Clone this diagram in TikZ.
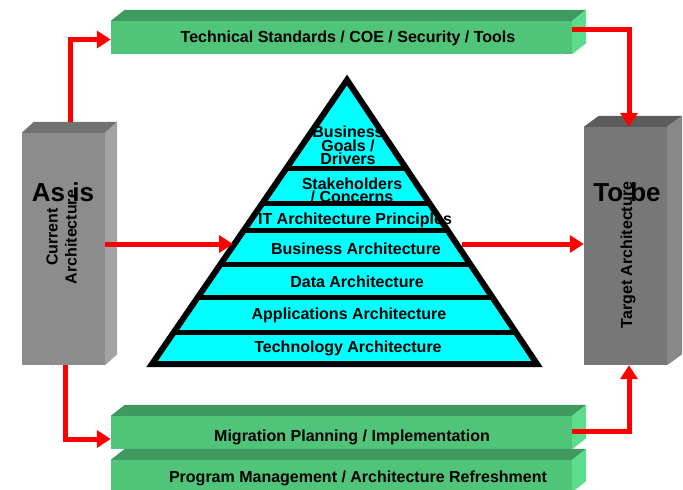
\documentclass[tikz,border=0pt]{standalone}
\usepackage{fontspec}
\setmainfont{Liberation Sans}
\usetikzlibrary{arrows.meta,positioning,calc}
\definecolor{barfront}{RGB}{80,196,120}
\definecolor{bartop}{RGB}{63,154,95}
\definecolor{barside}{RGB}{92,221,140}
\definecolor{asisfront}{RGB}{140,140,140}
\definecolor{asistop}{RGB}{114,114,114}
\definecolor{asisside}{RGB}{163,163,163}
\definecolor{tobefront}{RGB}{119,119,119}
\definecolor{tobetop}{RGB}{92,92,92}
\definecolor{tobeside}{RGB}{136,136,136}
\definecolor{pyrcyan}{RGB}{0,255,255}
\definecolor{arrowred}{RGB}{255,0,0}
\newcommand{\boxsides}[4]{%
  \fill[#3] (#1.north west) -- ($(#1.north west)+(#2)$) -- ($(#1.north east)+(#2)$) -- (#1.north east) -- cycle;
  \fill[#4] (#1.north east) -- ($(#1.north east)+(#2)$) -- ($(#1.south east)+(#2)$) -- (#1.south east) -- cycle;}

\begin{document}
\begin{tikzpicture}[x=1pt,y=-1pt,
  bar/.style={fill=barfront,minimum width=461pt,minimum height=33pt,inner sep=0pt},
  bartext/.style={font=\bfseries\fontsize{16}{18}\selectfont,inner sep=0pt},
  block/.style={minimum width=83pt,inner sep=0pt},
  title/.style={font=\bfseries\fontsize{26}{28}\selectfont,inner sep=0pt},
  side/.style={font=\bfseries\fontsize{16}{19}\selectfont,align=center,rotate=90,inner sep=0pt},
  layer/.style={font=\bfseries\fontsize{16}{13.5}\selectfont,align=center,inner sep=0pt},
  flow/.style={draw=arrowred,line width=5pt,-{Triangle[length=14pt,width=17pt]}}]
\useasboundingbox (0,0) rectangle (683,490);
% green bars
\node[bar] (tech) at (341.5,37.5) {};
\boxsides{tech}{14,-11}{bartop}{barside}
\node[bartext] (techtext) at (348,38) {Technical Standards / COE / Security / Tools};
\node[bar] (mig) at (341.5,432.5) {};
\boxsides{mig}{14,-11}{bartop}{barside}
\node[bartext] (migtext) at (352,437) {Migration Planning / Implementation};
\node[bar,minimum height=32pt] (prog) at (341.5,476) {};
\boxsides{prog}{14,-11}{bartop}{barside}
\node[bartext] (progtext) at (358,478) {Program Management / Architecture Refreshment};
% current and target blocks
\node[block,fill=asisfront,minimum height=232pt] (asis) at (63.5,249) {};
\boxsides{asis}{12,-11}{asistop}{asisside}
\node[title] (asistitle) at (63,192) {As is};
\node[side] (asisname) at (61.5,237) {Current\\Architecture};
\node[block,fill=tobefront,minimum height=238pt] (tobe) at (625.5,246) {};
\boxsides{tobe}{15,-11}{tobetop}{tobeside}
\node[title] (tobetitle) at (627,192) {To be};
\node[side] (tobename) at (628,255) {Target Architecture};
% pyramid
\coordinate (apex) at (347,80);
\coordinate (pl) at (152,364);
\coordinate (pr) at (537,364);
\foreach \ya/\tx/\ty/\txt [count=\i] in {75/348/145.5/{Business\\Goals /\\Drivers},168/352/190.5/{Stakeholders\\/ Concerns},203/355/220/IT Architecture Principles,230/356/249/Business Architecture,264/357/282/Data Architecture,297/349/315/Applications Architecture,332/348/348/Technology Architecture}{
  \begin{scope}
    \clip (apex) -- (pl) -- (pr) -- cycle;
    \fill[pyrcyan] (0,\ya) rectangle (683,370);
    \draw[line width=5pt] (0,\ya) -- (683,\ya);
  \end{scope}
  \node[layer] (layer\i) at (\tx,\ty) {\txt};
}
\draw[line width=6pt,line join=miter] (apex) -- (pl) -- (pr) -- cycle;
\coordinate (pyrL) at (233,244);
\coordinate (pyrR) at (462,244);
% arrows
\draw[flow] ([xshift=6.5pt,yshift=11pt]asis.north) |- ([yshift=-2pt]tech.west);
\draw[flow] ([yshift=8.5pt]tech.east) -| ([xshift=3.5pt]tobe.north);
\draw[flow] (asis.east |- pyrL) -- (pyrL);
\draw[flow] (pyrR) -- (pyrR -| tobe.west);
\draw[flow] ([xshift=1.5pt]asis.south) |- ([yshift=-6.5pt]mig.west);
\draw[flow] ([yshift=1.5pt]mig.east) -| ([xshift=3.5pt]tobe.south);
\end{tikzpicture}
\end{document}
